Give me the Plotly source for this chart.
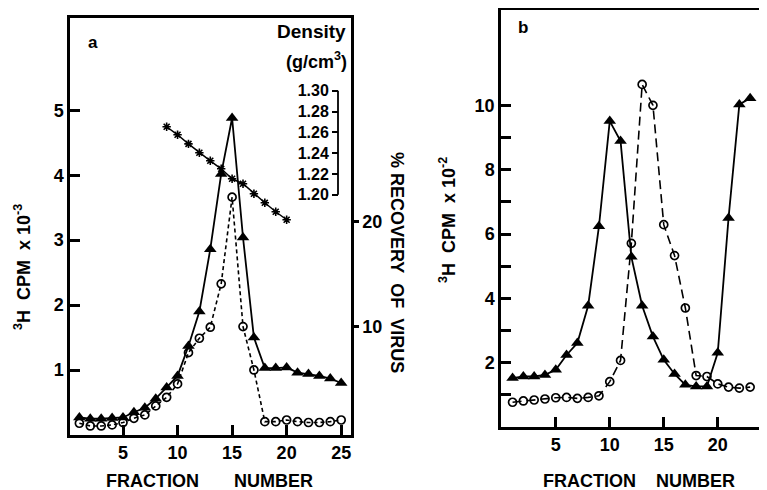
import plotly.graph_objects as go

# ---------------- data ----------------
# Panel a
frac_a = list(range(1, 26))
cpm_a = [0.27, 0.25, 0.25, 0.26, 0.27, 0.35, 0.42, 0.56, 0.73, 0.91, 1.37, 1.90, 2.86,
         4.02, 4.88, 3.04, 1.50, 1.03, 1.03, 1.04, 0.96, 0.94, 0.91, 0.87, 0.80]
recovery_a = [0.83, 0.57, 0.57, 0.67, 0.89, 1.30, 1.62, 2.48, 3.30, 4.57, 7.55, 8.92, 9.97,
              14.1, 22.35, 10.03, 5.9, 0.98, 0.98, 1.14, 0.98, 0.9, 0.9, 0.98, 1.14]
dens_frac = list(range(9, 21))
density = [1.2654, 1.2577, 1.249, 1.2404, 1.2327, 1.225, 1.2154, 1.2106, 1.201, 1.1923,
           1.1837, 1.176]
density_ticks = [1.20, 1.22, 1.24, 1.26, 1.28, 1.30]

# Panel b
frac_b = list(range(1, 24))
tri_b = [1.52, 1.57, 1.57, 1.62, 1.78, 2.24, 2.61, 3.77, 6.24, 9.51, 8.89, 5.29, 3.77,
         2.81, 2.09, 1.65, 1.31, 1.26, 1.26, 2.31, 6.50, 10.03, 10.22]
circ_b = [0.77, 0.81, 0.84, 0.87, 0.91, 0.92, 0.89, 0.92, 0.97, 1.41, 2.07, 5.71, 10.65,
          10.0, 6.29, 5.33, 3.70, 1.60, 1.57, 1.34, 1.24, 1.21, 1.24]

ticks_a_x = [5, 10, 15, 20, 25]
ticks_a_y = [1, 2, 3, 4, 5]
ticks_rec = [10, 20]
ticks_b_x = [5, 10, 15, 20]
ticks_b_y = list(range(1, 11))
ticklabels_b_y = ["", "2", "", "4", "", "6", "", "8", "", "10"]

# The page body has an 8px margin, so the figure is drawn 8px in from the
# top-left corner of the 767x490 window.
OFF = 8
W, H = 767 - OFF, 490 - OFF
FONT = "Liberation Sans"
NARROW = "Liberation Sans Narrow, Liberation Sans"
BLACK = "black"
NB = "\u00a0"


def px(x):
    return (x - OFF) / W


def py(y):
    return 1 - (y - OFF) / H


fig = go.Figure()

# ---- panel a traces ----
fig.add_trace(go.Scatter(
    x=frac_a, y=cpm_a, xaxis="x", yaxis="y", mode="lines+markers",
    line=dict(color=BLACK, width=1.8),
    marker=dict(symbol="triangle-up", size=11, color=BLACK),
    showlegend=False, cliponaxis=False))
fig.add_trace(go.Scatter(
    x=frac_a, y=recovery_a, xaxis="x", yaxis="y2", mode="lines+markers",
    line=dict(color=BLACK, width=1.6, dash="4px,3px"),
    marker=dict(symbol="circle-open", size=8, color=BLACK, line=dict(width=1.7)),
    showlegend=False, cliponaxis=False))
fig.add_trace(go.Scatter(
    x=dens_frac, y=density, xaxis="x", yaxis="y4", mode="lines+markers",
    line=dict(color=BLACK, width=1.5),
    marker=dict(symbol="asterisk-open", size=7, color=BLACK, line=dict(width=1.6, color=BLACK)),
    showlegend=False, cliponaxis=False))

# ---- panel b traces ----
fig.add_trace(go.Scatter(
    x=frac_b, y=tri_b, xaxis="x2", yaxis="y3", mode="lines+markers",
    line=dict(color=BLACK, width=1.8),
    marker=dict(symbol="triangle-up", size=11, color=BLACK),
    showlegend=False, cliponaxis=False))
fig.add_trace(go.Scatter(
    x=frac_b, y=circ_b, xaxis="x2", yaxis="y3", mode="lines+markers",
    line=dict(color=BLACK, width=1.6, dash="9px,5px"),
    marker=dict(symbol="circle-open", size=8, color=BLACK, line=dict(width=1.7)),
    showlegend=False, cliponaxis=False))

tickfont = dict(family=FONT, size=18, color=BLACK, weight="bold")
axis_common = dict(showgrid=False, zeroline=False, showline=True, linecolor=BLACK,
                   linewidth=2.5, tickcolor=BLACK, tickwidth=2.5, tickfont=tickfont)

fig.update_layout(
    width=W, height=H,
    margin=dict(l=0, r=0, t=0, b=0),
    paper_bgcolor="white", plot_bgcolor="white",
    xaxis=dict(domain=[px(70), px(351)], range=[0.14, 25.9], anchor="y",
               tickvals=ticks_a_x, ticks="inside", ticklen=10, mirror=True, **axis_common),
    yaxis=dict(domain=[py(435), py(18)], range=[0, 6.42], anchor="x",
               tickvals=ticks_a_y, ticks="inside", ticklen=10, **axis_common),
    yaxis2=dict(overlaying="y", side="right", anchor="x", range=[-0.29, 39.4],
                tickvals=ticks_rec, ticks="outside", ticklen=5, **axis_common),
    yaxis4=dict(overlaying="y", side="left", anchor="free", position=px(338),
                range=[0.969, 1.370], tickvals=density_ticks,
                ticktext=["%.2f" % v for v in density_ticks],
                ticks="outside", ticklen=6, tickwidth=1.8, tickcolor=BLACK,
                showline=False, showgrid=False, zeroline=False,
                tickfont=dict(family=NARROW, size=16, color=BLACK, weight="bold")),
    xaxis2=dict(domain=[px(501), 1.0], range=[-0.07, 24.56], anchor="y3",
                tickvals=ticks_b_x, ticks="inside", ticklen=10, mirror=True, **axis_common),
    yaxis3=dict(domain=[py(427), py(9.5)], range=[0, 12.98], anchor="x2",
                tickvals=ticks_b_y, ticktext=ticklabels_b_y,
                ticks="inside", ticklen=10, **axis_common),
)

# short density axis line (1.20 -> 1.30)
fig.add_shape(type="line", xref="paper", yref="y4", x0=px(338), x1=px(338),
              y0=density_ticks[0], y1=density_ticks[-1],
              line=dict(color=BLACK, width=1.8))

ann_font = dict(family=FONT, size=18, color=BLACK, weight="bold")
annotations = [
    dict(text="<b>a</b>", x=px(93), y=py(43), font=dict(family=FONT, size=17, color=BLACK)),
    dict(text="<b>b</b>", x=px(523), y=py(28), font=dict(family=FONT, size=17, color=BLACK)),
    dict(text="Density", x=px(348), y=py(31), xanchor="right",
         font=dict(family=FONT, size=19, color=BLACK, weight="bold")),
    dict(text="(g/cm<sup>3</sup>)", x=px(349), y=py(60), xanchor="right",
         font=dict(family=FONT, size=18, color=BLACK, weight="bold")),
    dict(text="<sup>3</sup>H" + NB * 2 + "CPM" + NB * 2 + "x" + NB + "10<sup>-3</sup>",
         x=px(22), y=py(267), textangle=-90, font=ann_font),
    dict(text="%" + NB + "RECOVERY" + NB * 2 + "OF" + NB * 2 + "VIRUS",
         x=px(397), y=py(262), textangle=90, font=ann_font),
    dict(text="<sup>3</sup>H" + NB * 2 + "CPM" + NB * 2 + "x" + NB + "10<sup>-2</sup>",
         x=px(447), y=py(220), textangle=-90, font=ann_font),
    dict(text="FRACTION" + NB * 7 + "NUMBER", x=px(210), y=py(481), font=ann_font),
    dict(text="FRACTION" + NB * 4 + "NUMBER", x=px(639), y=py(481), font=ann_font),
]
for a in annotations:
    a.setdefault("xanchor", "center")
    a.update(xref="paper", yref="paper", yanchor="middle", showarrow=False)
    fig.add_annotation(**a)

fig.write_html("out.html")
